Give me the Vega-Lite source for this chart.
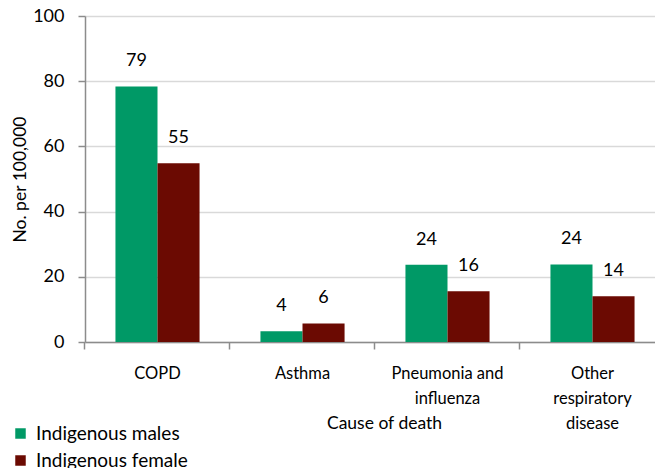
{
  "$schema": "https://vega.github.io/schema/vega-lite/v6.json",
  "width": 580,
  "height": 326,
  "autosize": "none",
  "padding": {"left": 85, "top": 16, "right": 0, "bottom": 126},
  "background": "white",
  "config": {
    "font": "Lato",
    "view": {"stroke": null},
    "axis": {"labelColor": "#000", "titleColor": "#000", "labelFont": "Lato", "titleFont": "Lato", "titleFontWeight": "normal"},
    "legend": {"labelColor": "#000", "labelFont": "Lato"}
  },
  "data": {
    "values": [
      {"cause": "COPD", "group": "Indigenous males", "value": 78.4, "label": "79"},
      {"cause": "COPD", "group": "Indigenous female", "value": 54.8, "label": "55"},
      {"cause": "Asthma", "group": "Indigenous males", "value": 3.3, "label": "4"},
      {"cause": "Asthma", "group": "Indigenous female", "value": 5.7, "label": "6"},
      {"cause": "Pneumonia and|influenza", "group": "Indigenous males", "value": 23.7, "label": "24"},
      {"cause": "Pneumonia and|influenza", "group": "Indigenous female", "value": 15.6, "label": "16"},
      {"cause": "Other|respiratory|disease", "group": "Indigenous males", "value": 23.8, "label": "24"},
      {"cause": "Other|respiratory|disease", "group": "Indigenous female", "value": 14.0, "label": "14"}
    ]
  },
  "encoding": {
    "xOffset": {"field": "group", "type": "nominal", "sort": ["Indigenous males", "Indigenous female"]},
    "y": {
      "field": "value",
      "type": "quantitative",
      "scale": {"domain": [0, 100]},
      "axis": {
        "values": [0, 20, 40, 60, 80, 100],
        "title": "No. per 100,000",
        "titleFontSize": 17.5,
        "titleX": -65,
        "titleY": 163,
        "titleAlign": "center",
        "titleBaseline": "middle",
        "labelFontSize": 18,
        "labelPadding": 14,
        "tickSize": 7,
        "tickColor": "#8c8c8c",
        "domainColor": "#8c8c8c",
        "domainWidth": 1.5,
        "tickWidth": 1.5,
        "grid": true,
        "gridColor": "#d9d9d9",
        "gridWidth": 1.5
      }
    }
  },
  "layer": [
    {
      "mark": {"type": "bar"},
      "encoding": {
        "x": {
          "field": "cause",
          "type": "nominal",
          "sort": ["COPD", "Asthma", "Pneumonia and|influenza", "Other|respiratory|disease"],
          "scale": {"paddingInner": 0.42, "paddingOuter": 0.21},
          "axis": {
            "orient": "bottom",
            "title": "Cause of death",
            "titleFontSize": 17.5,
            "titleX": 299,
            "titleY": 81,
            "titleBaseline": "middle",
            "labelExpr": "split(datum.value, '|')",
            "labelAngle": 0,
            "labelFontSize": 16.5,
            "labelLineHeight": 25,
            "labelPadding": 23,
            "ticks": false,
            "tickSize": 0,
            "domainColor": "#8c8c8c",
            "domainWidth": 1.5
          }
        },
        "color": {
          "field": "group",
          "type": "nominal",
          "sort": ["Indigenous males", "Indigenous female"],
          "scale": {"domain": ["Indigenous males", "Indigenous female"], "range": ["#009966", "#6b0a02"]},
          "legend": {
            "title": null,
            "orient": "none",
            "legendX": -74,
            "legendY": 408,
            "direction": "vertical",
            "symbolType": "square",
            "symbolSize": 110,
            "symbolStrokeWidth": 0,
            "labelFontSize": 19,
            "labelOffset": 6,
            "rowPadding": 7,
            "padding": 0
          }
        }
      }
    },
    {
      "mark": {"type": "text", "baseline": "alphabetic", "dy": -20, "fontSize": 18, "color": "#000"},
      "encoding": {
        "x": {
          "field": "cause",
          "type": "nominal",
          "sort": ["COPD", "Asthma", "Pneumonia and|influenza", "Other|respiratory|disease"],
          "axis": {
            "orient": "bottom",
            "title": null,
            "labels": false,
            "domain": false,
            "ticks": true,
            "tickSize": 7,
            "tickColor": "#8c8c8c",
            "tickWidth": 1.5,
            "bandPosition": -0.3627
          }
        },
        "text": {"field": "label", "type": "nominal"}
      }
    }
  ],
  "resolve": {"axis": {"x": "independent"}}
}
